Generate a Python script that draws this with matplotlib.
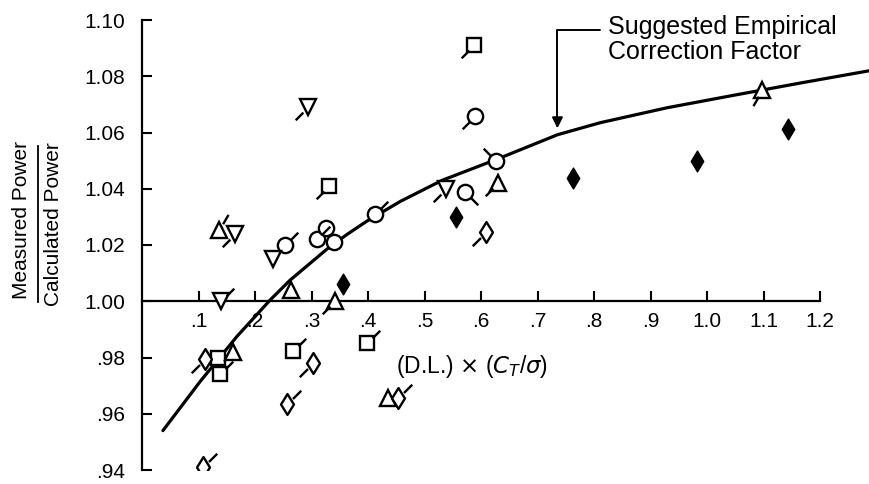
import numpy as np
import matplotlib
matplotlib.use("Agg")
import matplotlib.pyplot as plt
from matplotlib.path import Path

plt.rcParams['font.family'] = ['Liberation Sans', 'DejaVu Sans']

# Suggested empirical correction-factor curve
curve_x = [0.037, 0.103, 0.168, 0.227, 0.262, 0.327, 0.363, 0.398, 0.457,
           0.531, 0.628, 0.735, 0.811, 0.929, 1.046, 1.165, 1.288]
curve_y = [0.954, 0.9715, 0.9875, 1.0005, 1.0075, 1.0185, 1.0238, 1.0285, 1.0355,
           1.043, 1.0505, 1.0592, 1.0635, 1.0688, 1.0732, 1.0776, 1.082]

# Test points by symbol; flag = direction of the symbol's tail in degrees (None = no tail)
circle_x = [0.589, 0.253, 0.310, 0.325, 0.340, 0.412, 0.572, 0.627]
circle_y = [1.066, 1.020, 1.022, 1.026, 1.021, 1.031, 1.039, 1.050]
circle_flag = [225, 45, 45, None, None, 45, 315, 135]

square_x = [0.588, 0.331, 0.135, 0.138, 0.267, 0.398]
square_y = [1.091, 1.041, 0.980, 0.974, 0.9824, 0.985]
square_flag = [225, 225, None, 45, 45, 45]

tri_up_x = [0.136, 0.264, 0.342, 0.161, 0.630, 1.097, 0.435]
tri_up_y = [1.0255, 1.004, 1.000, 0.982, 1.042, 1.075, 0.9655]
tri_up_flag = [60, None, 225, None, 225, 240, None]

tri_down_x = [0.294, 0.165, 0.232, 0.140, 0.538]
tri_down_y = [1.069, 1.024, 1.015, 1.000, 1.040]
tri_down_flag = [225, 225, None, 45, 225]

diamond_x = [0.609, 0.112, 0.303, 0.257, 0.108, 0.453]
diamond_y = [1.0247, 0.9795, 0.978, 0.9635, 0.941, 0.9655]
diamond_flag = [225, 225, 225, 45, 45, 45]

solid_x = [0.356, 0.556, 0.763, 0.982, 1.143]
solid_y = [1.006, 1.030, 1.044, 1.050, 1.0614]

x_ticks = [0.1, 0.2, 0.3, 0.4, 0.5, 0.6, 0.7, 0.8, 0.9, 1.0, 1.1, 1.2]
x_labels = ['.1', '.2', '.3', '.4', '.5', '.6', '.7', '.8', '.9', '1.0', '1.1', '1.2']
y_ticks = [0.94, 0.96, 0.98, 1.00, 1.02, 1.04, 1.06, 1.08, 1.10]
y_labels = ['.94', '.96', '.98', '1.00', '1.02', '1.04', '1.06', '1.08', '1.10']


def tail_marker(angle):
    """Short radial stroke used as a flag on a symbol."""
    a = np.deg2rad(angle)
    c, s = np.cos(a), np.sin(a)
    verts = [(2, 2), (-2, -2), (0.8 * c, 0.8 * s), (2 * c, 2 * s)]
    codes = [Path.MOVETO, Path.MOVETO, Path.MOVETO, Path.LINETO]
    return Path(verts, codes)


def thin_diamond(ratio):
    verts = [(0, 1), (ratio, 0), (0, -1), (-ratio, 0), (0, 1)]
    codes = [Path.MOVETO, Path.LINETO, Path.LINETO, Path.LINETO, Path.CLOSEPOLY]
    return Path(verts, codes)


fig = plt.figure(figsize=(8.7, 4.84), dpi=100)
ax = fig.add_axes([142 / 870, 14 / 484, 728 / 870, 450 / 484])
ax.set_xlim(0, 1.288)
ax.set_ylim(0.94, 1.10)

ax.plot(curve_x, curve_y, color='black', lw=2.3, zorder=2,
        solid_capstyle='round', solid_joinstyle='round')

sym_kw = dict(ls='none', mfc='white', mec='black', mew=1.7, zorder=3)
tail_kw = dict(ls='none', mfc='none', mec='black', mew=1.7, zorder=3)
groups = [
    (circle_x, circle_y, circle_flag, 'o', 11, 26),
    (square_x, square_y, square_flag, 's', 9.5, 26),
    (tri_up_x, tri_up_y, tri_up_flag, '^', 11, 26),
    (tri_down_x, tri_down_y, tri_down_flag, 'v', 11, 26),
    (diamond_x, diamond_y, diamond_flag, thin_diamond(0.62), 15, 28),
]
for xs, ys, flags, m, ms, tail_ms in groups:
    ax.plot(xs, ys, marker=m, ms=ms, **sym_kw)
    for x, y, f in zip(xs, ys, flags):
        if f is not None:
            ax.plot([x], [y], marker=tail_marker(f), ms=tail_ms, **tail_kw)

# solid diamonds
ax.plot(solid_x, solid_y, ls='none', marker=thin_diamond(0.6), ms=15,
        mfc='black', mec='black', mew=1.0, zorder=3)

# axes styling
for side in ('top', 'right'):
    ax.spines[side].set_visible(False)
ax.spines['bottom'].set_position(('data', 1.0))
ax.spines['bottom'].set_bounds(0, 1.2)
ax.spines['left'].set_bounds(0.94, 1.10)
for side in ('bottom', 'left'):
    ax.spines[side].set_linewidth(1.6)

ax.set_xticks(x_ticks)
ax.set_xticklabels(x_labels)
ax.set_yticks(y_ticks)
ax.set_yticklabels(y_labels)
ax.tick_params(axis='both', direction='in', length=7, width=1.5, labelsize=15)
ax.tick_params(axis='x', pad=8)
ax.tick_params(axis='y', pad=12)

# x-axis quantity
ax.text(0.449, 0.9767, r'(D.L.) $\times$ ($C_T$/$\sigma$)', fontsize=16.5,
        ha='left', va='center')

# curve annotation
ax.text(0.825, 1.093, 'Suggested Empirical\nCorrection Factor', fontsize=18,
        ha='left', va='center', linespacing=1.05, clip_on=False)
ax.annotate('', xy=(0.735, 1.0605), xytext=(0.815, 1.0963),
            arrowprops=dict(arrowstyle='-|>', color='black', lw=1.4,
                            mutation_scale=16,
                            connectionstyle='angle,angleA=180,angleB=90,rad=0'))

# y-axis ratio label
fig.text(22 / 870, 1 - 220 / 484, 'Measured Power', rotation=90, fontsize=15,
         ha='center', va='center')
fig.text(54 / 870, 1 - 224 / 484, 'Calculated Power', rotation=90, fontsize=15,
         ha='center', va='center')
fig.add_artist(plt.Line2D([38 / 870, 38 / 870], [1 - 302 / 484, 1 - 146 / 484],
                          color='black', lw=1.3))

fig.savefig('out.png', dpi=100)
